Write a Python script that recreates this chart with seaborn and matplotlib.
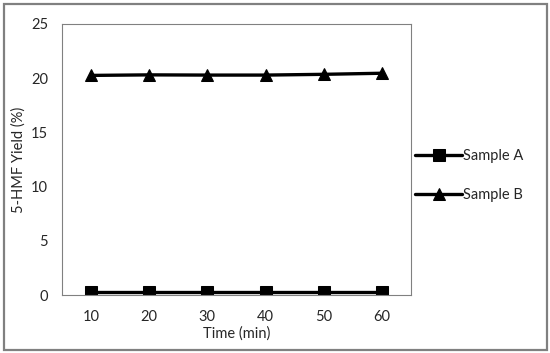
import pandas as pd
import matplotlib
matplotlib.use('Agg')
import matplotlib.pyplot as plt
import seaborn as sns

# Data
times = ['10', '20', '30', '40', '50', '60']
sample_a = [0.25, 0.25, 0.25, 0.25, 0.25, 0.25]
sample_b = [20.25, 20.3, 20.28, 20.28, 20.35, 20.45]

df = pd.DataFrame({
    'Time': times * 2,
    'Yield': sample_a + sample_b,
    'Sample': ['Sample A'] * len(times) + ['Sample B'] * len(times),
})
df['x'] = [times.index(t) + 0.5 for t in df['Time']]

sns.set_style('white')
plt.rcParams['font.family'] = ['Lato', 'DejaVu Sans']

fig = plt.figure(figsize=(5.5, 3.53), dpi=100)
# chart border like the Excel frame
fig.add_artist(plt.Rectangle((4 / 550, 3 / 353), 543 / 550, 346 / 353,
                             transform=fig.transFigure, fill=False,
                             edgecolor='#808080', linewidth=1.6))
ax = fig.add_axes([0.1127, 0.1643, 0.6345, 0.768])

sns.lineplot(data=df, x='x', y='Yield', hue='Sample', style='Sample',
             markers={'Sample A': 's', 'Sample B': '^'}, dashes=False,
             palette={'Sample A': 'black', 'Sample B': 'black'},
             linewidth=2.4, markersize=8, markeredgecolor='black', ax=ax)

ax.set_xlim(0, len(times))
ax.set_ylim(0, 25)
ax.set_xticks([i + 0.5 for i in range(len(times))])
ax.set_xticklabels(times)
ax.set_yticks([0, 5, 10, 15, 20, 25])
ax.tick_params(axis='both', labelsize=10.5, length=0)
ax.tick_params(axis='x', pad=11)
ax.tick_params(axis='y', pad=10)
ax.set_xlabel('Time (min)', fontsize=10.5)
ax.set_ylabel('5-HMF Yield (%)', fontsize=10.5)
ax.xaxis.set_label_coords(0.5, -0.115)
ax.yaxis.set_label_coords(-0.105, 0.5)
for s in ax.spines.values():
    s.set_color('#808080')
    s.set_linewidth(0.8)

leg = ax.legend(loc='center left', bbox_to_anchor=(0.975, 0.44), frameon=False,
                fontsize=10.5, handlelength=3.2, handletextpad=0.05,
                labelspacing=1.7)
for h in leg.legend_handles:
    h.set_linewidth(2.4)

plt.savefig('out.png', dpi=100)
